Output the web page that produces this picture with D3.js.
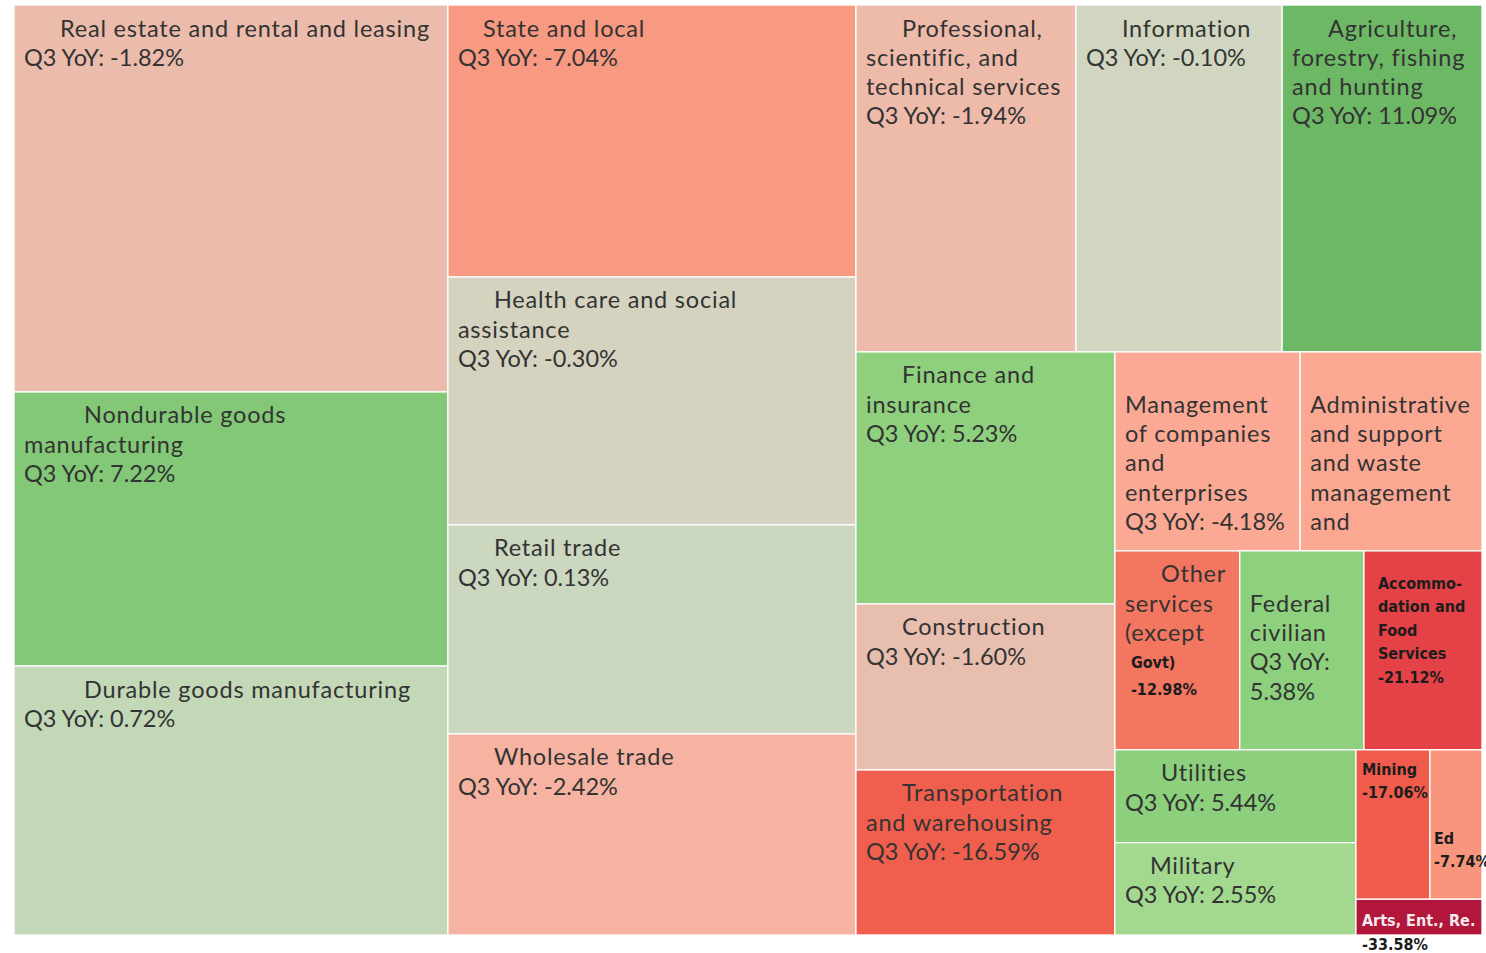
<!DOCTYPE html>
<html><head><meta charset="utf-8">
<script src="https://cdn.jsdelivr.net/npm/d3@7"></script>
<style>
html,body{margin:0;padding:0;background:#fff;}
svg{display:block;}
</style></head>
<body>
<svg id="chart" width="1486" height="953"></svg>
<script>
// ---------------- DATA ----------------
const industries = [
  "Real estate and rental and leasing",
  "Nondurable goods manufacturing",
  "Durable goods manufacturing",
  "State and local",
  "Health care and social assistance",
  "Retail trade",
  "Wholesale trade",
  "Professional, scientific, and technical services",
  "Information",
  "Agriculture, forestry, fishing and hunting",
  "Finance and insurance",
  "Construction",
  "Transportation and warehousing",
  "Management of companies and enterprises",
  "Administrative and support and waste management and remediation services",
  "Other services (except Govt)",
  "Federal civilian",
  "Accommodation and Food Services",
  "Utilities",
  "Military",
  "Mining",
  "Educational services",
  "Arts, Entertainment, Recreation"
];
// size of each box (share)
const shares = [12.30, 8.71, 8.55, 8.13, 7.41, 6.25, 6.01, 5.59, 5.24, 5.08, 4.78,
                3.15, 3.13, 2.70, 2.65, 1.82, 1.81, 1.72, 1.64, 1.63, 0.81, 0.57, 0.33];
// Q3 year-over-year change, %
const yoyQ3 = [-1.82, 7.22, 0.72, -7.04, -0.30, 0.13, -2.42, -1.94, -0.10, 11.09, 5.23,
               -1.60, -16.59, -4.18, -4.30, -12.98, 5.38, -21.12, 5.44, 2.55, -17.06, -7.74, -33.58];
// label text as wrapped in the picture
const displayLines = [
  ["Real estate and rental and leasing"],
  ["Nondurable goods", "manufacturing"],
  ["Durable goods manufacturing"],
  ["State and local"],
  ["Health care and social", "assistance"],
  ["Retail trade"],
  ["Wholesale trade"],
  ["Professional,", "scientific, and", "technical services"],
  ["Information"],
  ["Agriculture,", "forestry, fishing", "and hunting"],
  ["Finance and", "insurance"],
  ["Construction"],
  ["Transportation", "and warehousing"],
  ["", "Management", "of companies", "and", "enterprises"],
  ["", "Administrative", "and support", "and waste", "management", "and"],
  ["Other", "services", "(except", "Govt)"],
  ["", "Federal", "civilian"],
  ["Accommo-", "dation and", "Food", "Services"],
  ["Utilities"],
  ["Military"],
  ["Mining"],
  ["Ed"],
  ["Arts, Ent., Re."]
];
const valuePrefix = "Q3 YoY: ";

// ---------------- STYLE ----------------
const W = 1468, H = 930, OX = 14, OY = 5;
const REG_FONT = "Lato, 'Open Sans', sans-serif";
const BOLD_FONT = "'DejaVu Sans Condensed', 'DejaVu Sans', sans-serif";
const REG_SIZE = 23.5, LH = 29.3, NAME_SPACING = 0.8;
const labelStyle = {
  "State and local": {indent: 25},
  "Nondurable goods manufacturing": {indent: 60},
  "Durable goods manufacturing": {indent: 60},
  "Military": {indent: 25},
  "Administrative and support and waste management and remediation services": {noValue: true},
  "Federal civilian": {splitValue: true},
  "Other services (except Govt)": {boldFrom: 3, boldDx: 16, boldLH: 27, noPrefix: true},
  "Accommodation and Food Services": {compact: true, dx: 14, dy: 32, lh: 23.5},
  "Mining": {compact: true, dx: 6, dy: 19, lh: 23},
  "Educational services": {compact: true, dx: 4, dy: 88, lh: 23},
  "Arts, Entertainment, Recreation": {compact: true, dx: 6, dy: 21, lh: 24, firstFill: "#f3e8ec"}
};

const fmt = d3.formatLocale({decimal: ".", thousands: ",", grouping: [3], currency: ["", ""], minus: "-"}).format(".2f");

const color = d3.scaleLinear()
  .domain([-33.58, -21.12, -17, -13, -7.5, -4.2, -2.4, -1.8, -0.2, 0.13, 0.72, 2.55, 5.3, 7.22, 11.09])
  .range(["#b2173b", "#e44246", "#f05c4b", "#f27660", "#f8967e", "#fba994", "#f6b3a2", "#ebbcac",
          "#d3d5c0", "#ccd7c0", "#c3d8b7", "#a3d88f", "#8dd07d", "#82c876", "#6cb865"])
  .interpolate(d3.interpolateRgb)
  .clamp(true);

// ---------------- LAYOUT ----------------
const data = {name: "root", children: industries.map((n, i) => ({
  name: n, value: shares[i], yoy: yoyQ3[i], lines: displayLines[i]
}))};
const root = d3.hierarchy(data).sum(d => d.value || 0).sort((a, b) => b.value - a.value);
d3.treemap().size([W, H]).tile(d3.treemapSquarify)(root);

const svg = d3.select("#chart");
const g = svg.append("g").attr("transform", `translate(${OX},${OY})`);

const cells = g.selectAll("g.cell").data(root.leaves()).join("g").attr("class", "cell");

cells.append("rect")
  .attr("x", d => d.x0).attr("y", d => d.y0)
  .attr("width", d => d.x1 - d.x0).attr("height", d => d.y1 - d.y0)
  .attr("fill", d => color(d.data.yoy))
  .attr("stroke", "#fff").attr("stroke-width", 1.3);

function addText(sel, x, y, txt, bold, fill, spacing) {
  sel.append("text")
    .attr("x", x).attr("y", y)
    .attr("font-family", bold ? BOLD_FONT : REG_FONT)
    .attr("font-size", bold ? 16 : REG_SIZE)
    .attr("font-weight", bold ? "bold" : "normal")
    .attr("letter-spacing", spacing || 0)
    .attr("fill", fill || (bold ? "#1c1c1c" : "#333"))
    .text(txt);
}

cells.each(function(d) {
  const sel = d3.select(this);
  const st = labelStyle[d.data.name] || {};
  const val = fmt(d.data.yoy) + "%";
  const x0 = d.x0, y0 = d.y0;
  if (st.compact) {
    const lines = d.data.lines.concat([val]);
    lines.forEach((t, k) => {
      addText(sel, x0 + st.dx, y0 + st.dy + 6 + k * st.lh, t, true,
              (k === 0 && st.firstFill) ? st.firstFill : null);
    });
    return;
  }
  const nameLines = d.data.lines.slice();
  if (st.boldFrom !== undefined) {
    const reg = nameLines.slice(0, st.boldFrom);
    const bold = nameLines.slice(st.boldFrom).concat([val]);
    reg.forEach((t, k) => addText(sel, x0 + 10 + (k === 0 ? 36 : 0), y0 + 23 + 8.5 + k * LH, t, false, null, NAME_SPACING));
    const by = y0 + 23 + st.boldFrom * LH;
    bold.forEach((t, k) => addText(sel, x0 + st.boldDx, by + 6 + k * st.boldLH, t, true));
    return;
  }
  const lines = nameLines.map(t => ({t, name: true}));
  if (!st.noValue) {
    if (st.splitValue) lines.push({t: valuePrefix.trim()}, {t: val});
    else lines.push({t: valuePrefix + val});
  }
  const indent = st.indent !== undefined ? st.indent : 36;
  lines.forEach((l, k) => {
    addText(sel, x0 + 10 + (k === 0 ? indent : 0), y0 + 23 + 8.5 + k * LH, l.t, false, null,
            l.name ? NAME_SPACING : 0);
  });
});
</script>
</body></html>
